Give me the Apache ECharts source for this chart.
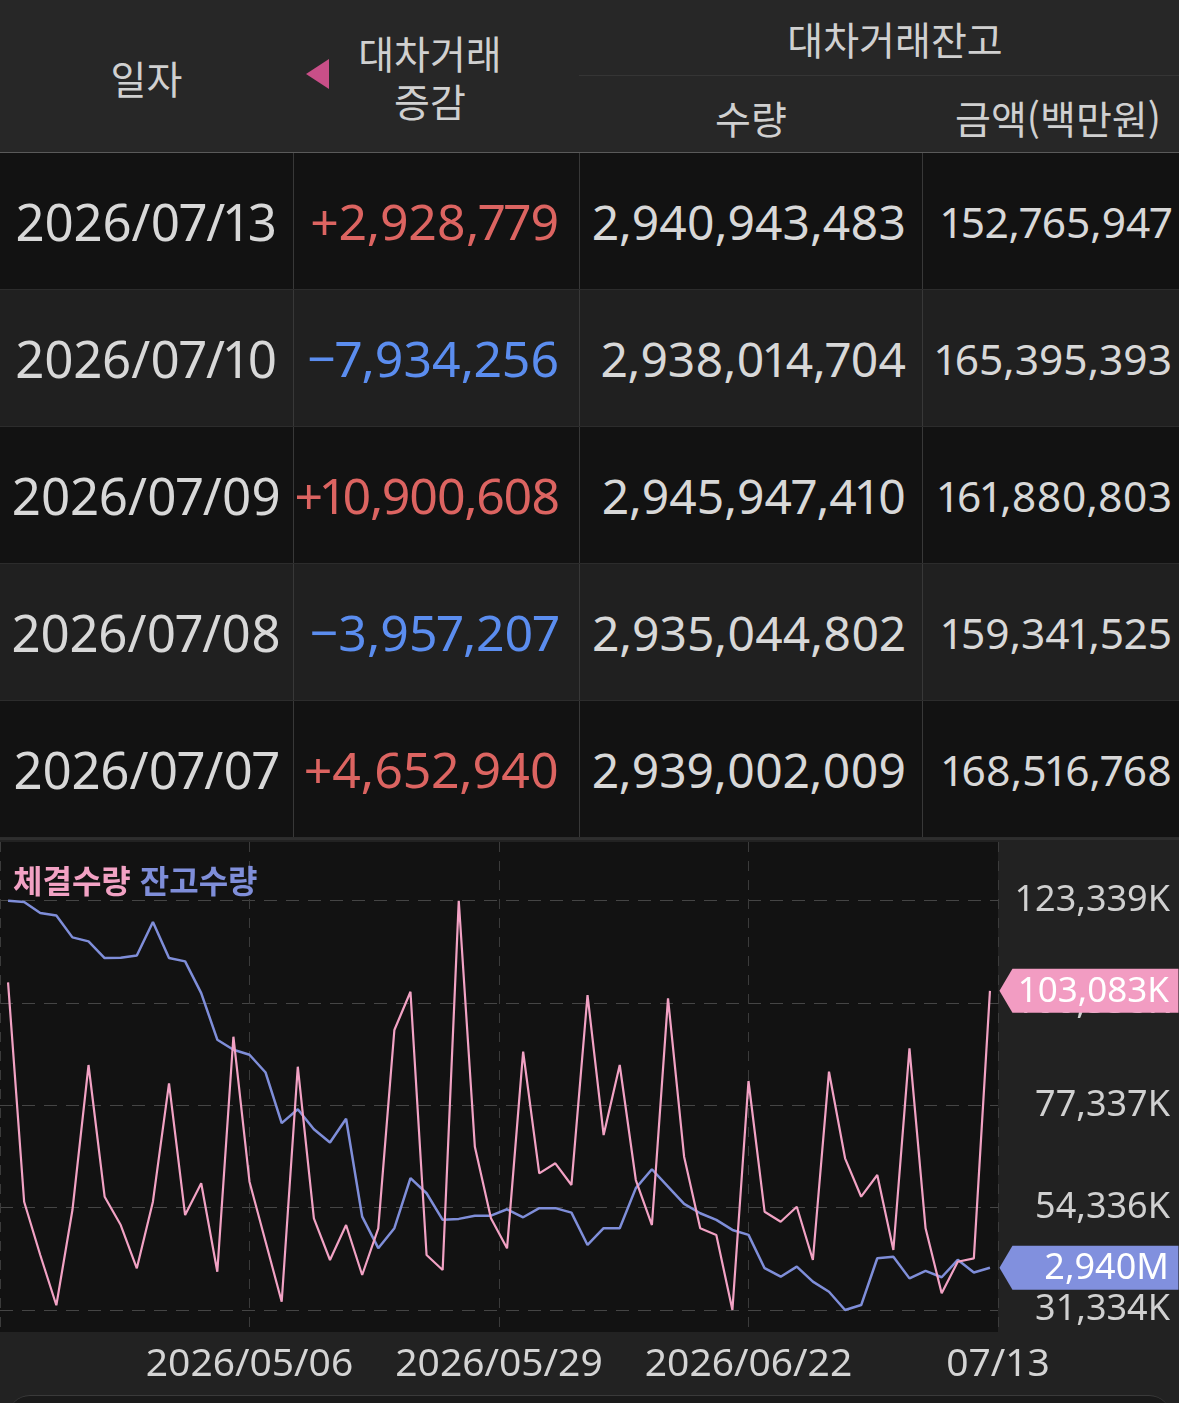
<!DOCTYPE html>
<html lang="ko">
<head>
<meta charset="utf-8">
<title>대차거래 추이</title>
<script src="https://cdn.jsdelivr.net/npm/echarts@6.0.0/dist/echarts.min.js"></script>
<style>
  html, body { margin: 0; padding: 0; background: #222222; }
  body { position: relative; width: 1179px; height: 1403px; overflow: hidden; }
  #head { position: absolute; left: 0; top: 0; width: 1179px; height: 152px; background: #272727; border-bottom: 1px solid #5a5a5a; }
  #head .t { position: absolute; font-family: "Noto Sans CJK KR", sans-serif; font-size: 39px; line-height: 48px; color: #d0d0d0; text-align: center; white-space: nowrap; }
  #head .rule { position: absolute; left: 579px; top: 75px; width: 600px; height: 1px; background: #353535; }
  #head .arrow { position: absolute; left: 306px; top: 59px; width: 0; height: 0; border-top: 15px solid transparent; border-bottom: 15px solid transparent; border-right: 23px solid #c94f88; }
  .row { position: absolute; left: 0; width: 1179px; height: 136px; border-bottom: 1px solid #2c2c2c; }
  .c { position: absolute; top: 0; height: 136px; display: flex; align-items: center; box-sizing: border-box; font-family: "Noto Sans", sans-serif; font-variant-numeric: proportional-nums; color: #d8d8d8; white-space: nowrap; }
  .c + .c { border-left: 1px solid #383838; }
  #sep { position: absolute; left: 0; top: 838px; width: 1179px; height: 2px; background: #2e2e2e; }
  #plotBg { position: absolute; left: 0; top: 842px; width: 998px; height: 490px; background: #121212; }
  #chart { position: absolute; left: 0; top: 840px; width: 1179px; height: 563px; }
  #sheet { position: absolute; left: 8px; top: 1395px; width: 1163px; height: 30px; background: #1a1a1a; border-top: 1px solid #3a3a3a; border-radius: 22px 22px 0 0; }
</style>
</head>
<body>
<div id="head">
  <div class="t" style="left:0;width:293px;top:53px;">일자</div>
  <div class="arrow"></div>
  <div class="t" style="left:330px;width:200px;top:28px;">대차거래<br>증감</div>
  <div class="t" style="left:745px;width:300px;top:14px;">대차거래잔고</div>
  <div class="rule"></div>
  <div class="t" style="left:601px;width:300px;top:93px;">수량</div>
  <div class="t" style="left:908px;width:300px;top:93px;">금액(백만원)</div>
</div>
<div id="rows"></div>
<div id="sep"></div>
<div id="plotBg"></div>
<div id="chart"></div>
<div id="sheet"></div>
<script>
// 표 데이터 (최근 5영업일)
var tableDates = ["2026/07/13", "2026/07/10", "2026/07/09", "2026/07/08", "2026/07/07"];
var tableChange = [2928779, -7934256, 10900608, -3957207, 4652940];
var tableBalance = [2940943483, 2938014704, 2945947410, 2935044802, 2939002009];
var tableAmount = [152765947, 165395393, 161880803, 159341525, 168516768];

// 차트 데이터
var dates = [
  "2026/04/13", "2026/04/14", "2026/04/15", "2026/04/16", "2026/04/17",
  "2026/04/20", "2026/04/21", "2026/04/22", "2026/04/23", "2026/04/24",
  "2026/04/27", "2026/04/28", "2026/04/29", "2026/04/30", "2026/05/04",
  "2026/05/06", "2026/05/07", "2026/05/08", "2026/05/11", "2026/05/12",
  "2026/05/13", "2026/05/14", "2026/05/15", "2026/05/18", "2026/05/19",
  "2026/05/20", "2026/05/21", "2026/05/22", "2026/05/26", "2026/05/27",
  "2026/05/28", "2026/05/29", "2026/06/01", "2026/06/02", "2026/06/04",
  "2026/06/05", "2026/06/08", "2026/06/09", "2026/06/10", "2026/06/11",
  "2026/06/12", "2026/06/15", "2026/06/16", "2026/06/17", "2026/06/18",
  "2026/06/19", "2026/06/22", "2026/06/23", "2026/06/24", "2026/06/25",
  "2026/06/26", "2026/06/29", "2026/06/30", "2026/07/01", "2026/07/02",
  "2026/07/03", "2026/07/06", "2026/07/07", "2026/07/08", "2026/07/09",
  "2026/07/10", "2026/07/13"
];
// 체결수량
var volume = [
  104996000, 55677000, 43696000, 32400000, 53811000, 86406000, 56801000, 50439000, 40706000, 55677000,
  82292000, 52687000, 59813000, 39942000, 92768000, 60173000, 46686000, 33198000, 86024000, 51946000,
  42572000, 50439000, 39200000, 49698000, 94274000, 102883000, 43696000, 40324000, 123339900, 68041000,
  51946000, 45202000, 89396000, 62061000, 64309000, 59431000, 102141000, 70671000, 86406000, 60555000,
  50439000, 101399000, 65793000, 49698000, 48192000, 31334900, 82809000, 53429000, 51181000, 54553000,
  42572000, 84900000, 65433000, 56801000, 61679000, 44820000, 90160000, 49698000, 35087000, 42190000,
  42954000, 103083000
];
// 잔고수량
var balance = [
  3170200000, 3169400000, 3162500000, 3160900000, 3147300000, 3144800000, 3134400000, 3134600000, 3136000000, 3156900000,
  3134400000, 3132300000, 3112500000, 3083400000, 3077100000, 3074000000, 3062900000, 3031300000, 3040000000, 3027500000,
  3019200000, 3034000000, 2972900000, 2953200000, 2965700000, 2996900000, 2987500000, 2970900000, 2971500000, 2973500000,
  2973500000, 2977500000, 2972500000, 2978200000, 2978200000, 2975400000, 2955200000, 2965700000, 2965700000, 2990700000,
  3002500000, 2991700000, 2980900000, 2975000000, 2970900000, 2964600000, 2961500000, 2940700000, 2935400000, 2941700000,
  2932300000, 2926000000, 2914600000, 2917700000, 2946900000, 2947900000, 2934349069, 2939002009, 2935044802, 2945947410,
  2938014704, 2940943483
];
// x축 눈금 라벨 (4등분 위치)
var dateTicks = ["", "2026/05/06", "2026/05/29", "2026/06/22", "07/13"];

var PINK = "#f2a2c4";
var PURPLE = "#7f8ed9";
var FONT = "'Noto Sans', 'Noto Sans CJK KR', sans-serif";

function fmt(n) {
  return Math.abs(n).toLocaleString("en-US");
}

// 표 그리기
var rows = document.getElementById("rows");
tableDates.forEach(function (d, i) {
  var row = document.createElement("div");
  row.className = "row";
  row.style.top = 153 + i * 137 + "px";
  row.style.background = i % 2 ? "#202020" : "#121212";
  var chg = tableChange[i];
  var cells = [
    { left: 0, width: 293, text: d, size: 51, just: "center", pad: 0, color: "#d8d8d8" },
    { left: 293, width: 286, text: (chg > 0 ? "+" : "\u2212") + fmt(chg), size: 50, just: "flex-end", pad: 20, color: chg > 0 ? "#dc6461" : "#5b8def" },
    { left: 579, width: 343, text: fmt(tableBalance[i]), size: 48, just: "flex-end", pad: 16, color: "#d8d8d8" },
    { left: 922, width: 257, text: fmt(tableAmount[i]), size: 42.5, just: "flex-end", pad: 7, color: "#d8d8d8" }
  ];
  cells.forEach(function (c) {
    var el = document.createElement("div");
    el.className = "c";
    el.style.left = c.left + "px";
    el.style.width = c.width + "px";
    el.style.fontSize = c.size + "px";
    el.style.justifyContent = c.just;
    el.style.paddingRight = c.pad + "px";
    el.style.color = c.color;
    var span = document.createElement("span");
    span.textContent = c.text;
    el.appendChild(span);
    row.appendChild(el);
  });
  rows.appendChild(row);
  // 셀 폭을 넘는 숫자는 자간을 줄여 맞춤
  Array.prototype.forEach.call(row.querySelectorAll(".c"), function (el, k) {
    var span = el.firstChild;
    var limit = cells[k].width - cells[k].pad - 2;
    var ls = 0;
    while (span.offsetWidth > limit && ls > -4) {
      ls -= 0.25;
      span.style.letterSpacing = ls + "px";
    }
  });
});

// 차트
var myChart = echarts.init(document.getElementById("chart"));
var volMin = Math.min.apply(null, volume);
var volMax = Math.max.apply(null, volume);
var balMin = Math.min.apply(null, balance);
var balMax = Math.max.apply(null, balance);
var last = dates.length - 1;

var tagPath = "path://M0,22L13,0L179,0L179,44L13,44Z";

var option = {
  backgroundColor: "transparent",
  animation: false,
  textStyle: { fontFamily: FONT },
  legend: {
    left: 3,
    top: 20,
    icon: "none",
    itemWidth: 0,
    itemHeight: 32,
    itemGap: 4,
    selectedMode: false,
    textStyle: { fontSize: 32, fontWeight: "bold", fontFamily: "'Noto Sans CJK KR', sans-serif" },
    data: [
      { name: "체결수량", textStyle: { color: PINK } },
      { name: "잔고수량", textStyle: { color: PURPLE } }
    ]
  },
  grid: [
    // 데이터 영역
    { left: 0, right: 181, top: 60.7, bottom: 93, outerBoundsMode: "none" },
    // 세로 격자 + 날짜 라벨
    { left: 0, right: 181, top: 2, bottom: 71, outerBoundsMode: "none" }
  ],
  xAxis: [
    { type: "category", gridIndex: 0, data: dates, boundaryGap: true, show: false },
    {
      type: "value",
      gridIndex: 1,
      min: 0,
      max: 4,
      interval: 1,
      axisLine: { show: false },
      axisTick: { show: false },
      splitLine: { show: true, lineStyle: { color: "#3b3b3b", width: 1, type: [10, 9] } },
      axisLabel: {
        showMinLabel: true,
        showMaxLabel: true,
        margin: 13,
        fontSize: 39,
        color: "#d4d4d4",
        formatter: function (v) {
          return dateTicks[v] || "";
        }
      }
    }
  ],
  yAxis: [
    {
      type: "value",
      gridIndex: 0,
      position: "right",
      min: volMin,
      max: volMax,
      interval: (volMax - volMin) / 4,
      axisLine: { show: false },
      axisTick: { show: false },
      splitLine: { show: true, lineStyle: { color: "#454545", width: 1, type: [13, 9] } },
      axisLabel: {
        align: "right",
        margin: 172,
        fontSize: 36,
        color: "#d0d0d0",
        formatter: function (v) {
          return Math.floor(v / 1000).toLocaleString("en-US") + "K";
        }
      }
    },
    { type: "value", gridIndex: 0, min: balMin, max: balMax, show: false, splitLine: { show: false } },
    { type: "value", gridIndex: 1, min: 0, max: 1, show: false, splitLine: { show: false } }
  ],
  series: [
    {
      name: "체결수량",
      type: "line",
      xAxisIndex: 0,
      yAxisIndex: 0,
      data: volume,
      symbol: "none",
      clip: false,
      itemStyle: { color: PINK },
      lineStyle: { color: PINK, width: 2.2 },
      z: 3,
      markPoint: {
        symbol: tagPath,
        symbolSize: [179, 44],
        symbolOffset: [99, 0],
        itemStyle: { color: "#f29cc2" },
        label: {
          show: true,
          position: "inside",
          align: "right",
          offset: [80, 1],
          color: "#ffffff",
          fontSize: 35,
          fontFamily: FONT,
          formatter: function (p) {
            return Math.floor(p.value / 1000).toLocaleString("en-US") + "K";
          }
        },
        data: [{ coord: [dates[last], volume[last]], value: volume[last] }]
      }
    },
    {
      name: "잔고수량",
      type: "line",
      xAxisIndex: 0,
      yAxisIndex: 1,
      data: balance,
      symbol: "none",
      clip: false,
      itemStyle: { color: PURPLE },
      lineStyle: { color: PURPLE, width: 2.5 },
      z: 2,
      markPoint: {
        symbol: tagPath,
        symbolSize: [179, 44],
        symbolOffset: [99, 0],
        itemStyle: { color: "#8190de" },
        label: {
          show: true,
          position: "inside",
          align: "right",
          offset: [80, 1],
          color: "#ffffff",
          fontSize: 36,
          fontFamily: FONT,
          formatter: function (p) {
            return Math.floor(p.value / 1000000).toLocaleString("en-US") + "M";
          }
        },
        data: [{ coord: [dates[last], balance[last]], value: balance[last] }]
      }
    }
  ]
};
myChart.setOption(option);
</script>
</body>
</html>
